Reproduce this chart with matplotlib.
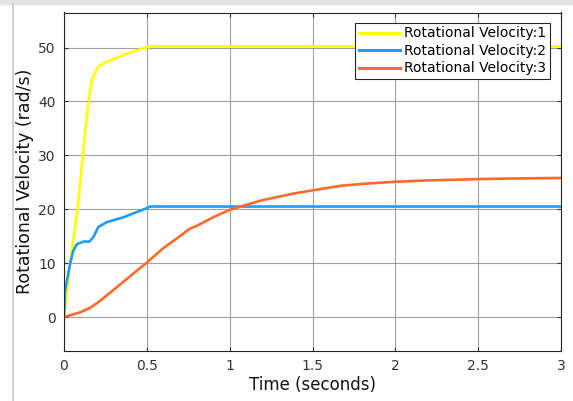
import numpy as np
import matplotlib.pyplot as plt
from matplotlib.lines import Line2D
from matplotlib.patches import Rectangle

# time samples and signals
t1 = [0, 0.04, 0.08, 0.117, 0.147, 0.167, 0.197, 0.217, 0.25, 0.278, 0.35, 0.42, 0.5, 0.52, 3.0]
v1 = [0, 10.8, 19.5, 31.0, 39.7, 44.0, 45.9, 46.7, 47.2, 47.6, 48.5, 49.3, 50.0, 50.2, 50.2]

t2 = [0, 0.006, 0.036, 0.056, 0.077, 0.117, 0.153, 0.177, 0.207, 0.258, 0.358, 0.5, 0.52, 3.0]
v2 = [0, 4.8, 9.8, 12.3, 13.5, 14.0, 14.0, 14.8, 16.7, 17.6, 18.5, 20.2, 20.5, 20.5]

t3 = [0, 0.1, 0.157, 0.2, 0.278, 0.4, 0.5, 0.6, 0.7, 0.76, 0.8, 0.9, 1.0, 1.2, 1.4, 1.5,
      1.67, 1.8, 2.0, 2.2, 2.4, 2.5, 2.7, 3.0]
v3 = [0, 0.9, 1.7, 2.6, 4.5, 7.6, 10.1, 12.8, 15.0, 16.4, 16.9, 18.5, 19.9, 21.7, 23.0, 23.5,
      24.35, 24.7, 25.1, 25.35, 25.5, 25.6, 25.7, 25.8]

labels = ["Rotational Velocity:1", "Rotational Velocity:2", "Rotational Velocity:3"]
colors = ["#FFFF00", "#1E9BFF", "#FF6A2B"]

fig = plt.figure(figsize=(5.73, 4.01), dpi=100)
fig.patch.set_facecolor("white")
# window chrome: grey strip on top, thin line on the left
fig.patches.append(Rectangle((0, 1 - 4 / 401), 1, 4 / 401, transform=fig.transFigure,
                             color="#e4e4e4", zorder=0))
fig.lines.append(Line2D([12.5 / 573, 12.5 / 573], [0, 1 - 4 / 401], transform=fig.transFigure,
                        color="#c8c8c8", lw=1.2))

ax = fig.add_axes([64 / 573, 1 - 351 / 401, (561 - 64) / 573, (351 - 12.5) / 401])

for t, v, lab, c in zip([t1, t2, t3], [v1, v2, v3], labels, colors):
    ax.plot(t, v, color=c, lw=1.9, label=lab)

ax.set_xlim(0, 3)
ax.set_ylim(-6.3, 56.5)
ax.set_xticks([0, 0.5, 1, 1.5, 2, 2.5, 3])
ax.set_xticklabels(["0", "0.5", "1", "1.5", "2", "2.5", "3"])
ax.set_yticks([0, 10, 20, 30, 40, 50])
ax.grid(True, color="#a0a0a0", lw=0.8)
ax.tick_params(direction="in", top=True, right=True, length=3, labelsize=10,
               colors="#333333", pad=6)
for s in ax.spines.values():
    s.set_color("#262626")
    s.set_linewidth(0.8)

ax.set_xlabel("Time (seconds)", fontsize=12, color="#111111", labelpad=2)
ax.set_ylabel("Rotational Velocity (rad/s)", fontsize=12.5, color="#111111", labelpad=3)

leg = ax.legend(loc="upper right", fontsize=10, frameon=True, fancybox=False,
                bbox_to_anchor=(550 / 573, 1 - 23 / 401), bbox_transform=fig.transFigure,
                borderaxespad=0, handlelength=3.0, handletextpad=0.3,
                labelspacing=0.25, borderpad=0.25, framealpha=1)
leg.get_frame().set_edgecolor("#262626")
leg.get_frame().set_linewidth(0.8)
for line in leg.get_lines():
    line.set_linewidth(2.2)

fig.savefig("out.png", dpi=100)
